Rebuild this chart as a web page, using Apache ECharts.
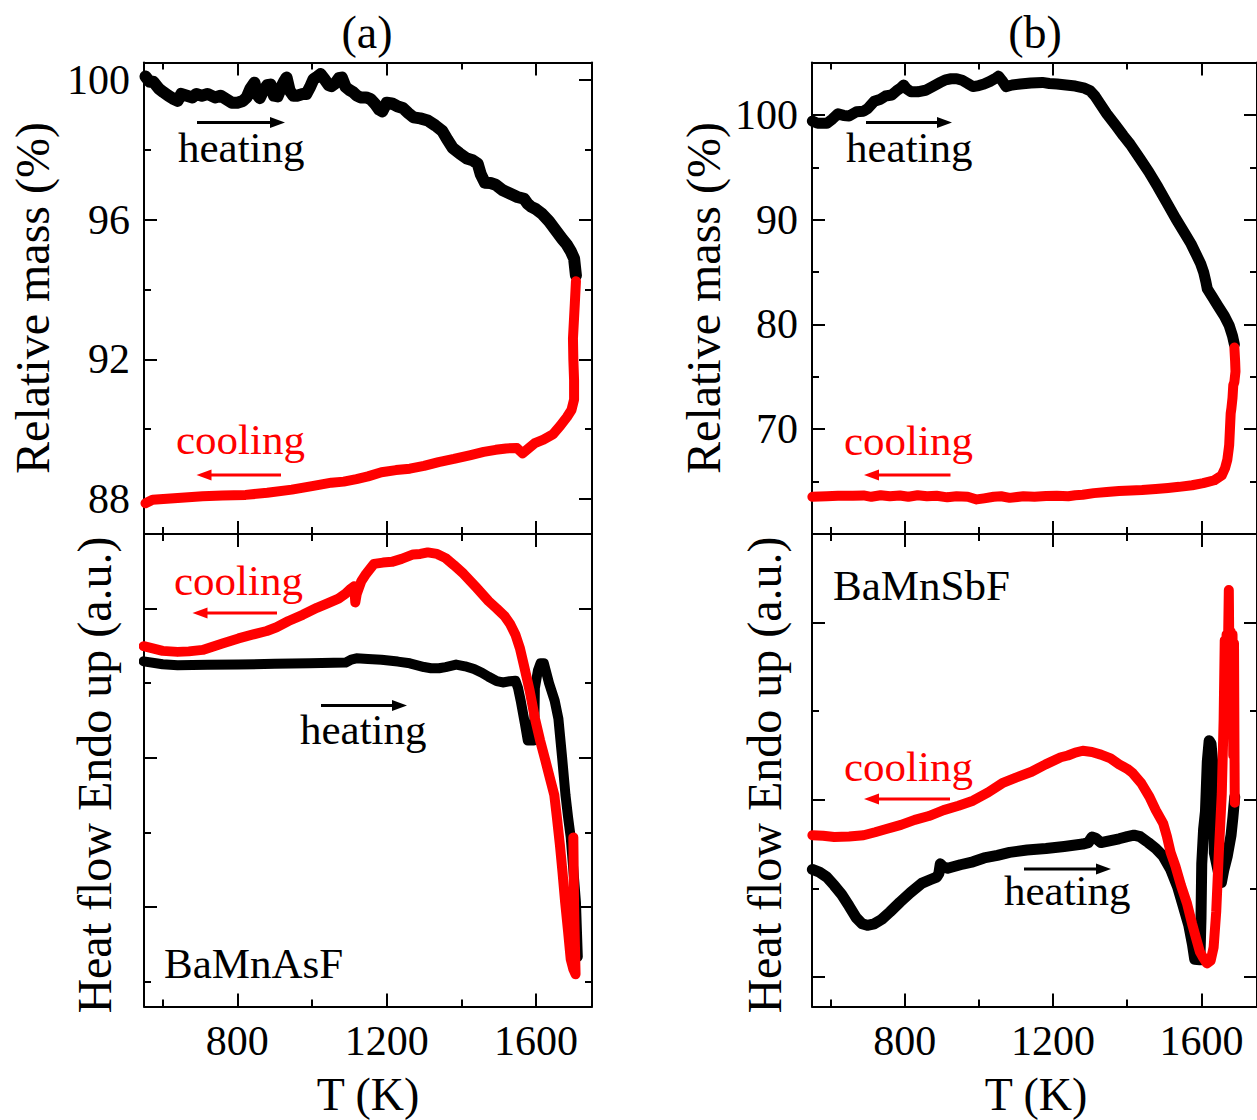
<!DOCTYPE html>
<html><head><meta charset="utf-8">
<script src="https://cdn.jsdelivr.net/npm/echarts@6/dist/echarts.min.js"></script>
<style>html,body{margin:0;padding:0;background:#fff}#c{width:1257px;height:1120px}</style>
</head><body><div id="c"></div>
<script>
// ---------- DATA ----------
// Temperature axis ticks
const tempMajorTicks = [800, 1200, 1600];
const tempMinorTicks = [600, 1000, 1400];
// Relative mass ticks
const massMajorA = [88, 92, 96, 100];
const massMinorA = [90, 94, 98];
const massMajorB = [70, 80, 90, 100];
const massMinorB = [65, 75, 85, 95];
// Heat flow (a.u.) ticks
const heatMajorA = [4, 10, 16];
const heatMinorA = [1, 7, 13];
const heatMajorB = [1, 7, 13];
const heatMinorB = [4, 10];

// (a) BaMnAsF relative mass, heating [T, %]
const massHeatingA = [[554,100.1],[565,99.95],[575,99.95],[590,99.75],[602,99.65],[615,99.55],[630,99.45],[640,99.4],[650,99.6],[665,99.55],[680,99.5],[690,99.6],[705,99.55],[720,99.6],[740,99.5],[755,99.55],[770,99.45],[785,99.35],[800,99.35],[815,99.4],[825,99.5],[835,99.75],[846,99.92],[852,99.6],[860,99.48],[870,99.7],[880,99.85],[889,99.87],[898,99.55],[908,99.53],[918,99.8],[925,99.95],[932,100.07],[940,99.7],[950,99.55],[960,99.55],[975,99.6],[985,99.6],[995,99.8],[1004,100.02],[1015,100.1],[1023,100.17],[1035,100],[1045,99.85],[1052,99.82],[1062,99.9],[1072,100.05],[1080,100.07],[1090,99.8],[1099,99.72],[1110,99.65],[1120,99.55],[1130,99.5],[1145,99.5],[1157,99.45],[1170,99.3],[1180,99.15],[1188,99.1],[1200,99.35],[1214,99.33],[1228,99.25],[1243,99.2],[1258,99.05],[1272,98.93],[1290,98.9],[1310,98.84],[1330,98.7],[1349,98.54],[1362,98.3],[1377,98.05],[1395,97.9],[1415,97.75],[1430,97.7],[1444,97.6],[1452,97.3],[1463,97.06],[1478,97.05],[1492,97.0],[1510,96.85],[1530,96.75],[1550,96.65],[1568,96.6],[1578,96.45],[1587,96.37],[1600,96.3],[1616,96.17],[1635,95.95],[1654,95.68],[1670,95.45],[1683,95.28],[1693,95.1],[1702,94.89],[1707,94.4]];
// (a) relative mass, cooling (path order)
const massCoolingA = [[1707,94.24],[1704,93.6],[1702,93.2],[1699,92.6],[1700,92.0],[1702,91.4],[1702,90.85],[1695,90.55],[1683,90.35],[1665,90.1],[1645,89.85],[1620,89.7],[1597,89.6],[1580,89.45],[1564,89.31],[1549,89.46],[1520,89.45],[1492,89.41],[1460,89.35],[1425,89.26],[1380,89.15],[1339,89.06],[1300,88.95],[1262,88.87],[1225,88.83],[1186,88.77],[1150,88.65],[1119,88.57],[1085,88.5],[1052,88.47],[1000,88.37],[946,88.27],[880,88.18],[822,88.12],[760,88.1],[707,88.08],[640,88.03],[573,87.98],[554,87.88]];
// (a) heat flow, heating
const heatHeatingA = [[549,13.88],[600,13.76],[640,13.72],[720,13.74],[803,13.75],[900,13.78],[994,13.8],[1090,13.83],[1105,13.95],[1119,14.0],[1150,13.97],[1186,13.94],[1230,13.87],[1262,13.8],[1300,13.65],[1319,13.6],[1340,13.6],[1358,13.65],[1386,13.75],[1410,13.68],[1434,13.57],[1455,13.42],[1473,13.26],[1495,13.08],[1511,13.03],[1530,13.08],[1545,13.1],[1552,12.8],[1559,12.3],[1570,11.4],[1578,10.7],[1595,10.7],[1597,12.8],[1605,13.5],[1612,13.8],[1621,13.8],[1635,13.0],[1650,12.3],[1660,11.57],[1670,10.0],[1679,8.5],[1686,7.6],[1693,6.8],[1700,5.5],[1707,4.2],[1712,2.0]];
// (a) heat flow, cooling (path order)
const heatCoolingA = [[1700,6.8],[1702,4.0],[1706,1.3],[1700,1.5],[1693,1.9],[1686,3.0],[1678,4.2],[1671,5.4],[1664,6.5],[1656,7.6],[1649,8.5],[1637,9.2],[1625,9.9],[1611,10.7],[1597,11.6],[1583,12.7],[1568,13.7],[1557,14.4],[1545,14.95],[1530,15.4],[1516,15.7],[1495,16.0],[1473,16.3],[1440,16.85],[1406,17.4],[1380,17.75],[1358,18.03],[1335,18.2],[1310,18.26],[1290,18.2],[1271,18.18],[1240,18.0],[1214,17.88],[1190,17.85],[1166,17.8],[1145,17.4],[1132,17.1],[1120,16.6],[1116,16.25],[1113,16.9],[1104,16.8],[1090,16.6],[1071,16.4],[1040,16.2],[1013,16.03],[975,15.75],[937,15.5],[905,15.25],[879,15.1],[840,14.95],[803,14.8],[760,14.6],[707,14.34],[670,14.28],[640,14.26],[600,14.3],[560,14.45],[549,14.49]];

// (b) BaMnSbF relative mass, heating
const massHeatingB = [[551,99.4],[565,99.2],[590,99.2],[605,99.6],[620,100.1],[635,99.95],[650,99.9],[670,100.3],[689,100.35],[700,100.6],[718,101.3],[735,101.5],[748,101.8],[765,101.9],[778,102.3],[790,102.6],[797,102.85],[805,102.5],[817,102.2],[835,102.2],[856,102.35],[875,102.7],[896,103.1],[910,103.35],[925,103.45],[940,103.45],[955,103.3],[970,103.0],[984,102.7],[1000,102.8],[1014,102.95],[1030,103.2],[1045,103.5],[1053,103.7],[1062,103.3],[1073,102.7],[1090,102.85],[1112,102.95],[1140,103.05],[1171,103.1],[1190,103.0],[1211,102.95],[1235,102.85],[1260,102.75],[1285,102.55],[1300,102.3],[1313,101.8],[1325,101.15],[1345,100.1],[1369,99.0],[1390,98.0],[1408,97.2],[1433,95.9],[1458,94.57],[1483,93.1],[1507,91.6],[1531,90.1],[1556,88.65],[1572,87.7],[1586,86.68],[1598,85.8],[1606,85.0],[1612,84.1],[1616,83.4],[1630,82.6],[1645,81.74],[1662,80.8],[1675,79.9],[1684,78.9],[1689,78.1]];
// (b) relative mass, cooling (path order)
const massCoolingB = [[1689,77.8],[1691,76.5],[1692,75.5],[1689,74.5],[1686,74.2],[1684,73],[1681,72],[1679,71.5],[1677,70],[1675,68.5],[1674,68.2],[1670,67.1],[1664,66.3],[1655,65.6],[1635,65.13],[1605,64.85],[1575,64.65],[1540,64.5],[1510,64.4],[1477,64.3],[1440,64.2],[1410,64.15],[1378,64.1],[1345,64.0],[1310,63.9],[1280,63.75],[1260,63.7],[1241,63.6],[1210,63.65],[1181,63.62],[1150,63.55],[1120,63.6],[1083,63.45],[1060,63.6],[1040,63.55],[1014,63.4],[994,63.3],[970,63.55],[940,63.6],[915,63.5],[886,63.65],[860,63.6],[835,63.7],[810,63.55],[787,63.68],[760,63.6],[735,63.7],[710,63.55],[689,63.68],[660,63.65],[620,63.65],[590,63.6],[551,63.55]];
// (b) heat flow, heating
const heatHeatingB = [[551,4.64],[570,4.55],[590,4.38],[610,4.1],[630,3.79],[650,3.4],[669,3.01],[685,2.8],[699,2.75],[718,2.8],[738,2.95],[760,3.2],[787,3.53],[815,3.85],[847,4.18],[870,4.3],[886,4.38],[892,4.5],[896,4.83],[905,4.72],[916,4.68],[950,4.8],[984,4.9],[1014,5.03],[1050,5.12],[1083,5.22],[1130,5.3],[1181,5.35],[1230,5.42],[1280,5.5],[1295,5.55],[1305,5.74],[1315,5.7],[1329,5.55],[1355,5.62],[1378,5.68],[1400,5.75],[1418,5.8],[1435,5.75],[1457,5.55],[1477,5.35],[1497,5.09],[1517,4.65],[1536,4.05],[1551,3.4],[1566,2.75],[1576,2.1],[1582,1.6],[1596,1.58],[1599,3.0],[1601,4.83],[1606,6.0],[1611,6.6],[1616,8.3],[1621,9.0],[1626,8.9],[1631,8.2],[1635,5.2],[1645,4.6],[1654,4.2],[1660,4.6],[1670,5.1],[1680,5.8],[1685,6.4],[1690,7.1]];
// (b) heat flow, cooling (path order)
const heatCoolingB = [[1690,6.9],[1688,12.3],[1686,8.5],[1684,12.6],[1681,10.2],[1679,12.7],[1676,11.0],[1674,14.1],[1671,11.5],[1668,12.6],[1665,10.5],[1663,12.4],[1660,9.7],[1655,7.2],[1647,5.2],[1640,3.2],[1633,2.0],[1625,1.55],[1615,1.46],[1605,1.65],[1596,1.85],[1586,2.3],[1575,2.8],[1561,3.5],[1545,4.1],[1530,4.75],[1517,5.22],[1507,5.76],[1497,6.2],[1477,6.65],[1460,7.1],[1438,7.56],[1415,7.9],[1400,8.05],[1378,8.2],[1355,8.4],[1329,8.53],[1305,8.62],[1280,8.66],[1260,8.6],[1240,8.5],[1221,8.44],[1180,8.2],[1142,7.95],[1100,7.75],[1063,7.56],[1025,7.25],[984,6.97],[945,6.8],[905,6.65],[865,6.45],[827,6.32],[790,6.15],[748,6.0],[720,5.9],[689,5.8],[650,5.76],[610,5.74],[580,5.78],[551,5.8]];

// ---------- CHART ----------
const FONT = 'Liberation Serif';
const BLACK = '#000000', RED = '#ff0000';
const grids = [
  {left:144, top:62.5, width:448, height:471.5},
  {left:144, top:534, width:448, height:472.5},
  {left:812, top:62.5, width:449, height:471.5},
  {left:812, top:534, width:449, height:472.5}
];
const yRanges = [[87,100.5],[0,19],[60,105],[0,16]];
const yMajor = [massMajorA, heatMajorA, massMajorB, heatMajorB];
const yMinor = [massMinorA, heatMinorA, massMinorB, heatMinorB];
const yLabelled = [true, false, true, false];
const xLabelled = [false, true, false, true];

function tickStyle(){ return {color:BLACK, width:2}; }
function labelStyle(vals, margin){
  return {show:true, customValues:vals, margin, fontFamily:FONT, fontSize:42, color:BLACK,
    formatter: v => String(v)};
}
const xAxes = [], yAxes = [];
for (let g = 0; g < 4; g++) {
  const specs = [
    ['bottom', tempMajorTicks, 13, true, xLabelled[g]],
    ['bottom', tempMinorTicks, 7, false, false],
    ['top', tempMajorTicks, 13, true, false],
    ['top', tempMinorTicks, 7, false, false]
  ];
  specs.forEach(([pos, ticks, len, line, lab]) => {
    xAxes.push({type:'value', gridIndex:g, position:pos, min:550, max:1750,
      axisLine:{show:line, onZero:false, lineStyle:{color:BLACK, width:2}},
      axisTick:{show:true, inside:true, length:len, customValues:ticks, lineStyle:tickStyle()},
      axisLabel: lab ? labelStyle(tempMajorTicks, 13) : {show:false},
      splitLine:{show:false}});
  });
  const yspecs = [
    ['left', yMajor[g], 13, true, yLabelled[g]],
    ['left', yMinor[g], 7, false, false],
    ['right', yMajor[g], 13, true, false],
    ['right', yMinor[g], 7, false, false]
  ];
  yspecs.forEach(([pos, ticks, len, line, lab]) => {
    yAxes.push({type:'value', gridIndex:g, position:pos, min:yRanges[g][0], max:yRanges[g][1],
      axisLine:{show:line, onZero:false, lineStyle:{color:BLACK, width:2}},
      axisTick:{show:true, inside:true, length:len, customValues:ticks, lineStyle:tickStyle()},
      axisLabel: lab ? labelStyle(yMajor[g], 14) : {show:false},
      splitLine:{show:false}});
  });
}

function lineSeries(g, data, color, w){
  return {type:'line', xAxisIndex:4*g, yAxisIndex:4*g, data, showSymbol:false, symbol:'none',
    silent:true, animation:false, clip:true,
    lineStyle:{color, width:w || 10, cap:'round', join:'round'}};
}
const series = [
  lineSeries(0, massHeatingA, BLACK, 12), lineSeries(0, massCoolingA, RED, 10),
  lineSeries(1, heatHeatingA, BLACK, 10), lineSeries(1, heatCoolingA, RED, 10),
  lineSeries(2, massHeatingB, BLACK, 11), lineSeries(2, massCoolingB, RED, 10),
  lineSeries(3, heatHeatingB, BLACK, 11), lineSeries(3, heatCoolingB, RED, 10)
];

function txt(text, x, y, color, size, align, rot){
  const e = {type:'text', x, y, silent:true, z:100,
    style:{text, fill:color, font:size + 'px "' + FONT + '"', textAlign:align || 'left', textVerticalAlign:'middle'}};
  if (rot) e.rotation = rot;
  return e;
}
function arrow(x1, x2, y, color){
  const dir = x2 > x1 ? 1 : -1, hl = 15, hw = 5.5;
  return [
    {type:'line', silent:true, z:100, shape:{x1, y1:y, x2:x2 - dir*hl*0.7, y2:y}, style:{stroke:color, lineWidth:3}},
    {type:'polygon', silent:true, z:100, shape:{points:[[x2,y],[x2-dir*hl,y-hw],[x2-dir*hl,y+hw]]}, style:{fill:color}}
  ];
}
const R90 = Math.PI/2;
const graphic = [
  txt('(a)', 367, 32, BLACK, 46, 'center'),
  txt('(b)', 1035, 32, BLACK, 46, 'center'),
  txt('Relative mass (%)', 32, 298, BLACK, 48, 'center', R90),
  txt('Heat flow Endo up (a.u.)', 94, 775, BLACK, 48, 'center', R90),
  txt('Relative mass (%)', 703, 298, BLACK, 48, 'center', R90),
  txt('Heat flow Endo up (a.u.)', 764, 775, BLACK, 48, 'center', R90),
  txt('T (K)', 368, 1094, BLACK, 46, 'center'),
  txt('T (K)', 1036, 1094, BLACK, 46, 'center'),
  txt('heating', 178, 147, BLACK, 43),
  txt('cooling', 176, 439, RED, 43),
  txt('cooling', 174, 580, RED, 43),
  txt('heating', 300, 729, BLACK, 43),
  txt('BaMnAsF', 164, 963, BLACK, 43),
  txt('heating', 846, 147, BLACK, 43),
  txt('cooling', 844, 440, RED, 43),
  txt('BaMnSbF', 833, 585, BLACK, 43),
  txt('cooling', 844, 766, RED, 43),
  txt('heating', 1004, 890, BLACK, 43),
  ...arrow(197, 285, 122.5, BLACK),
  ...arrow(281, 196.5, 475, RED),
  ...arrow(277, 192.5, 613, RED),
  ...arrow(321, 407, 705.5, BLACK),
  ...arrow(866, 952, 122.5, BLACK),
  ...arrow(950.5, 864, 475, RED),
  ...arrow(950, 864, 799, RED),
  ...arrow(1024, 1111, 869, BLACK)
];

const chart = echarts.init(document.getElementById('c'), null, {renderer:'svg', width:1257, height:1120});
chart.setOption({
  animation:false,
  backgroundColor:'#ffffff',
  textStyle:{fontFamily:FONT},
  grid: grids.map(g => Object.assign({containLabel:false}, g)),
  xAxis: xAxes,
  yAxis: yAxes,
  series,
  graphic
});
</script>
</body></html>
